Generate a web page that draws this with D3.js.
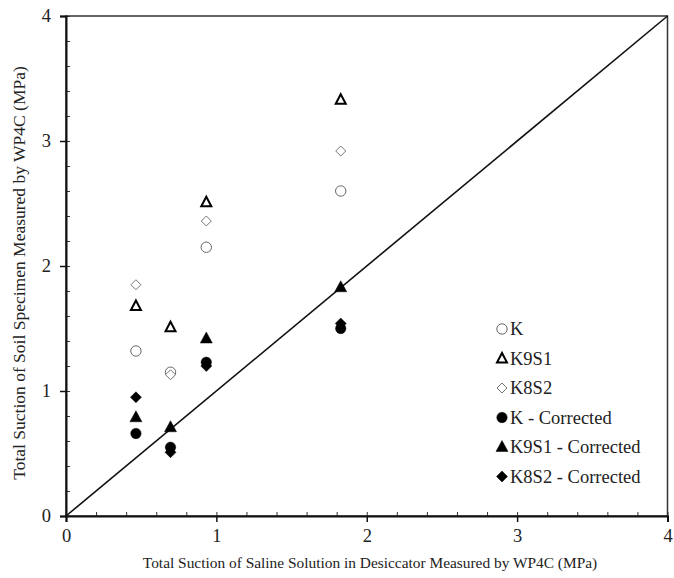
<!DOCTYPE html>
<html>
<head>
<meta charset="utf-8">
<script src="https://cdn.jsdelivr.net/npm/d3@7"></script>
<style>
  html, body { margin: 0; padding: 0; background: #fff; }
  svg { display: block; }
</style>
</head>
<body>
<svg id="chart" width="674" height="578"></svg>
<script>
// Saline solution suction (x) and specimen suction (y), MPa
const saline = [0.465, 0.695, 0.933, 1.827];
const seriesNames = ["K", "K9S1", "K8S2", "K - Corrected", "K9S1 - Corrected", "K8S2 - Corrected"];
const kVals = [1.32, 1.15, 2.15, 2.60];
const k9s1Vals = [1.68, 1.51, 2.51, 3.33];
const k8s2Vals = [1.85, 1.13, 2.36, 2.92];
const kCorrVals = [0.66, 0.55, 1.23, 1.50];
const k9s1CorrVals = [0.79, 0.71, 1.42, 1.83];
const k8s2CorrVals = [0.95, 0.51, 1.20, 1.54];
const majorTicks = [0, 1, 2, 3, 4];
const minorTicks = d3.range(0, 4.0001, 0.2);

const FONT = "Liberation Serif";

const series = [
  { name: seriesNames[0], values: kVals, shape: "circle", filled: false },
  { name: seriesNames[1], values: k9s1Vals, shape: "triangle", filled: false },
  { name: seriesNames[2], values: k8s2Vals, shape: "diamond", filled: false },
  { name: seriesNames[3], values: kCorrVals, shape: "circle", filled: true },
  { name: seriesNames[4], values: k9s1CorrVals, shape: "triangle", filled: true },
  { name: seriesNames[5], values: k8s2CorrVals, shape: "diamond", filled: true }
];

const svg = d3.select("#chart");
const margin = { left: 66, right: 6, top: 16, bottom: 62 };
const W = 674, H = 578;
const x = d3.scaleLinear().domain([0, 4]).range([margin.left, W - margin.right - 0.5]);
const y = d3.scaleLinear().domain([0, 4]).range([H - margin.bottom, margin.top]);

// Frame
svg.append("rect")
  .attr("x", x(0)).attr("y", y(4))
  .attr("width", x(4) - x(0)).attr("height", y(0) - y(4))
  .attr("fill", "none").attr("stroke", "#333").attr("stroke-width", 1.5);

// Minor ticks, inward
const minorX = d3.axisTop(x).tickValues(minorTicks).tickSize(4).tickFormat("");
const minorY = d3.axisRight(y).tickValues(minorTicks).tickSize(4).tickFormat("");
const gmx = svg.append("g").attr("transform", `translate(0,${y(0)})`).call(minorX);
const gmy = svg.append("g").attr("transform", `translate(${x(0)},0)`).call(minorY);
[gmx, gmy].forEach(g => {
  g.select(".domain").remove();
  g.selectAll("line").attr("stroke", "#333").attr("stroke-width", 1);
});

// Major axes, ticks outward
const xAxis = d3.axisBottom(x).tickValues(majorTicks).tickSize(6).tickPadding(7).tickFormat(d3.format("d"));
const yAxis = d3.axisLeft(y).tickValues(majorTicks).tickSize(6).tickPadding(9).tickFormat(d3.format("d"));
const gx = svg.append("g").attr("transform", `translate(0,${y(0)})`).call(xAxis);
const gy = svg.append("g").attr("transform", `translate(${x(0)},0)`).call(yAxis);
[gx, gy].forEach(g => {
  g.attr("font-family", null).attr("font-size", null);
  g.select(".domain").attr("stroke", "#111").attr("stroke-width", 2);
  g.selectAll("line").attr("stroke", "#111").attr("stroke-width", 1.5);
  g.selectAll("text")
    .style("font-family", FONT).style("font-size", "18.5px").attr("fill", "#222");
});

// 1:1 line
svg.append("line")
  .attr("x1", x(0)).attr("y1", y(0)).attr("x2", x(4)).attr("y2", y(4))
  .attr("stroke", "#111").attr("stroke-width", 1.6);

// Marker drawing
function marker(g, shape, filled) {
  if (shape === "circle") {
    g.append("circle").attr("r", 5.2)
      .attr("fill", filled ? "#000" : "#fff")
      .attr("stroke", filled ? "#000" : "#666").attr("stroke-width", filled ? 0.5 : 1);
  } else if (shape === "triangle") {
    const p = filled ? "M0,-6.5L6,4.5L-6,4.5Z" : "M0,-5.5L5,4L-5,4Z";
    g.append("path").attr("d", p)
      .attr("fill", filled ? "#000" : "none")
      .attr("stroke", "#000").attr("stroke-width", filled ? 0.5 : 2);
  } else {
    const p = filled ? "M0,-5.5L5.5,0L0,5.5L-5.5,0Z" : "M0,-5L5,0L0,5L-5,0Z";
    g.append("path").attr("d", p)
      .attr("fill", filled ? "#000" : "#fff")
      .attr("stroke", filled ? "#000" : "#777").attr("stroke-width", filled ? 0.5 : 1);
  }
}

series.forEach(s => {
  s.values.forEach((v, i) => {
    const g = svg.append("g").attr("transform", `translate(${x(saline[i])},${y(v)})`);
    marker(g, s.shape, s.filled);
  });
});

// Legend
const legend = svg.append("g").attr("transform", "translate(502,329)");
series.forEach((s, i) => {
  const row = legend.append("g").attr("transform", `translate(0,${i * 29.5})`);
  marker(row, s.shape, s.filled);
  row.append("text").attr("x", 8).attr("y", 6)
    .style("font-family", FONT).style("font-size", "18.5px").attr("fill", "#222")
    .text(s.name);
});

// Axis titles
svg.append("text")
  .attr("x", 370).attr("y", 568)
  .attr("text-anchor", "middle")
  .style("font-family", FONT).style("font-size", "15.4px").attr("fill", "#222")
  .text("Total Suction of Saline Solution in Desiccator Measured by WP4C (MPa)");
svg.append("text")
  .attr("transform", `translate(25,273) rotate(-90)`)
  .attr("text-anchor", "middle")
  .style("font-family", FONT).style("font-size", "17.5px").attr("fill", "#222")
  .text("Total Suction of Soil Specimen Measured by WP4C (MPa)");
</script>
</body>
</html>
